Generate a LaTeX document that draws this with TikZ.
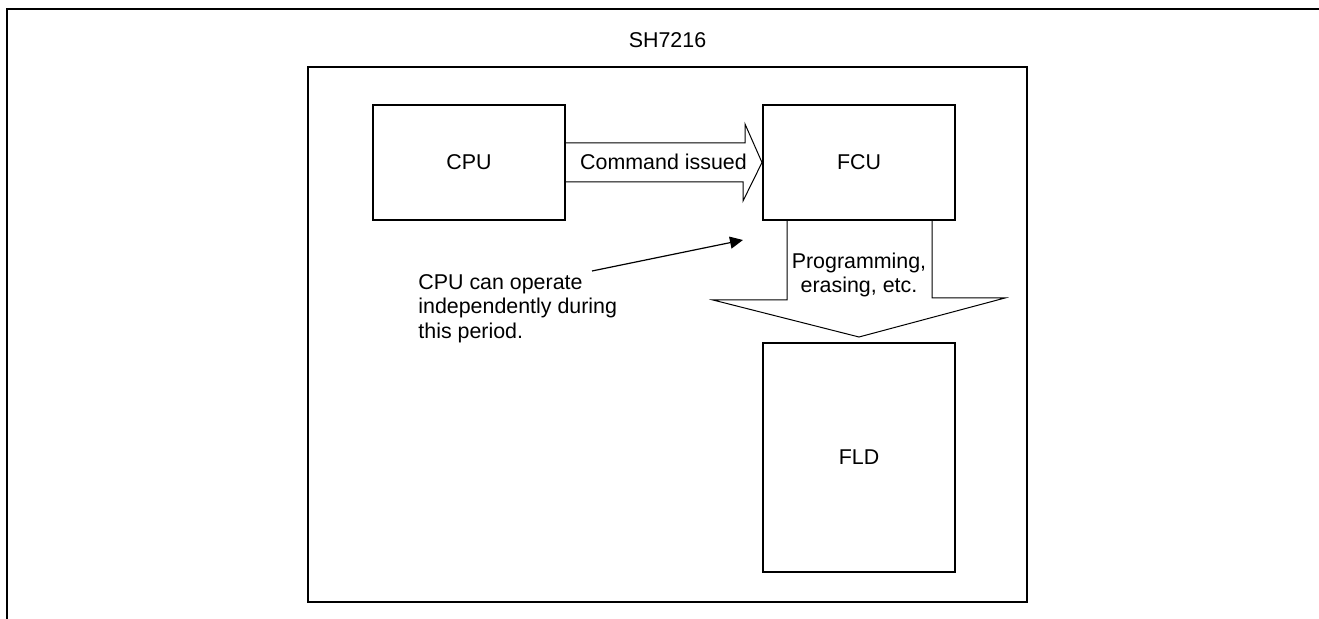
\documentclass[tikz,border=0pt]{standalone}
\usepackage{fontspec}
\setmainfont{Liberation Sans}
\usetikzlibrary{positioning,calc,arrows.meta}

\begin{document}
\begin{tikzpicture}[x=0.5pt, y=-0.5pt]
\tikzset{boite/.style={draw, line width=1pt, minimum width=96pt, minimum height=57.5pt, font=\fontsize{10.7}{12.3}\selectfont},
  fleche/.style={draw, line width=0.5pt, line join=miter},
  texte/.style={inner sep=0pt, font=\fontsize{10.7}{12.3}\selectfont}}
\useasboundingbox (0,0) rectangle (1319,619);
\draw[line width=1.2pt] (7,619) -- (7,9) -- (1319,9);
\node[draw, line width=1pt, minimum width=359.5pt, minimum height=267.5pt] (chip) at (667.5,334.5) {};
\node[texte, above=9pt of chip] (chiplbl) {SH7216};
\node[boite] (CPU) at (469,162.5) {CPU};
\node[boite] (FCU) at (859,162.5) {FCU};
\node[boite, minimum height=114.5pt] (FLD) at (859,457.5) {FLD};
\draw[fleche] ($(CPU.east)+(0,-19.5)$) -- ++(179,0) -- ++(0,-19) -- (FCU.west) -- ++(-19,38.5) -- ++(0,-19) -- ($(CPU.east)+(0,19.5)$);
\node[texte] (cmd) at (663.5,162) {Command issued};
\draw[fleche] ($(FCU.south)+(-72,0)$) -- ++(0,79) -- ++(-74,0) -- ($(FLD.north)+(0,-5)$) -- ++(146,-39) -- ++(-73,0) -- ($(FCU.south)+(73,0)$);
\node[texte, align=center] (prog) at (859,275) {Programming,\\erasing, etc.};
\node[texte, align=left, anchor=north west] (note) at (418,274) {CPU can operate\\independently during\\this period.};
\coordinate (tail) at (592,271);
\coordinate (tip) at (743,240);
\draw[line width=0.6pt, -{Triangle[length=6.5pt, width=6pt]}] (tail) -- (tip);
\end{tikzpicture}
\end{document}
